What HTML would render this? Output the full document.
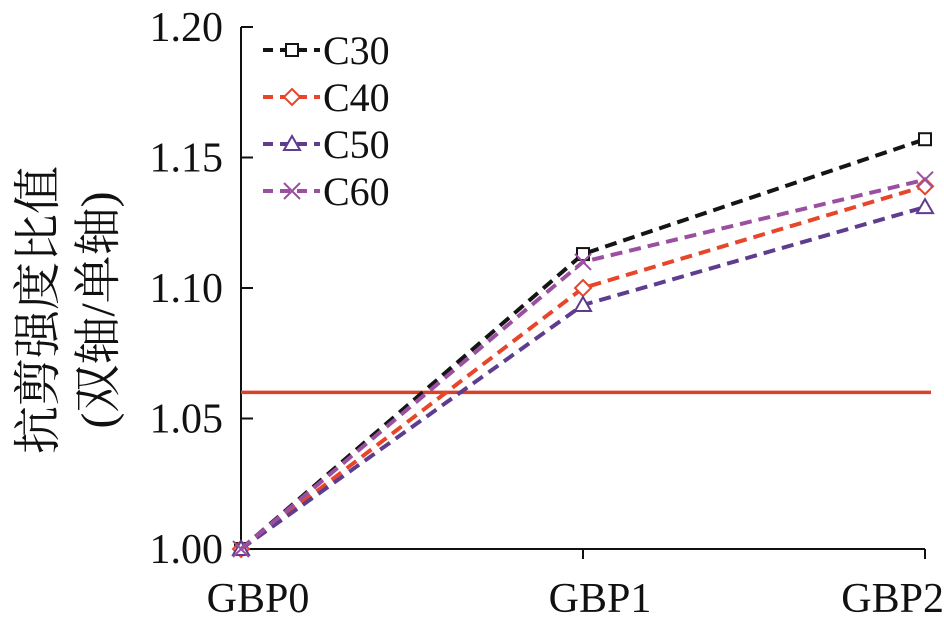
<!DOCTYPE html>
<html><head><meta charset="utf-8"><style>
body{margin:0;background:#fff}
svg{display:block}
text{font-family:"Liberation Serif","Noto Serif CJK SC",serif;fill:#111}
</style></head><body>
<svg id="chart" width="944" height="620" viewBox="0 0 944 620" xmlns="http://www.w3.org/2000/svg"></svg>
<script>
const categories=["GBP0","GBP1","GBP2"];
const seriesNames=["C30","C40","C50","C60"];
const c30=[1.000,1.113,1.157];
const c40=[1.000,1.100,1.139];
const c50=[1.000,1.0935,1.131];
const c60=[1.000,1.110,1.1415];
const yTicks=["1.00","1.05","1.10","1.15","1.20"];
const refValue=1.06;

const NS="http://www.w3.org/2000/svg";
const svg=document.getElementById('chart');
const x0=241,x1=925,yBot=549,yTop=27,yMin=1.0,yMax=1.2;
const xs=i=>x0+(x1-x0)*i/(categories.length-1);
const ys=v=>yBot-(v-yMin)/(yMax-yMin)*(yBot-yTop);
function mk(tag,attrs,parent){const e=document.createElementNS(NS,tag);for(const k in attrs)e.setAttribute(k,attrs[k]);(parent||svg).appendChild(e);return e;}

let ax=mk('line',{x1:x0,y1:yTop,x2:x0,y2:yBot,stroke:'#111','stroke-width':2});


let bx=mk('line',{x1:x0,y1:yBot,x2:x1,y2:yBot,stroke:'#111','stroke-width':2});


yTicks.forEach(t=>{const y=ys(parseFloat(t));
 const tk=mk('line',{x1:x0,y1:y,x2:x0+12,y2:y,stroke:'#111','stroke-width':2});
 
 
 const tx=mk('text',{x:x0-18,y:y+14,'text-anchor':'end','font-size':42});tx.textContent=t;
 
 
});
categories.forEach((c,i)=>{const x=xs(i);
 if(i>0){const tk=mk('line',{x1:x,y1:yBot,x2:x,y2:yBot+10,stroke:'#111','stroke-width':2});
 
 }
 const last=i==categories.length-1;
 const tx=mk('text',{x:last?944:x+17,y:612,'text-anchor':last?'end':'middle','font-size':42});tx.textContent=c;
 
 
});
const yt=mk('text',{transform:'translate(54,310) rotate(-90)','text-anchor':'middle','font-size':48});


const t1=mk('tspan',{x:0,y:0},yt);t1.textContent='抗剪强度比值';
const t2=mk('tspan',{x:0,y:60},yt);t2.textContent='(双轴/单轴)';
const rl=mk('line',{x1:x0,y1:ys(refValue),x2:x1+6,y2:ys(refValue),stroke:'#d9412b','stroke-width':3.5});



const data=[c30,c40,c50,c60];
const colors=['#151515','#e8462a','#5e3c8e','#9b4fa0'];
const markers=['square','diamond','triangle','cross'];
function marker(type,x,y,col,parent){
 if(type=='square')return mk('rect',{x:x-6,y:y-6,width:12,height:12,fill:'#fff',stroke:col,'stroke-width':2},parent);
 if(type=='diamond')return mk('polygon',{points:`${x},${y-8} ${x+8},${y} ${x},${y+8} ${x-8},${y}`,fill:'#fff',stroke:col,'stroke-width':2},parent);
 if(type=='triangle')return mk('polygon',{points:`${x},${y-8} ${x+8},${y+6} ${x-8},${y+6}`,fill:'#fff',stroke:col,'stroke-width':2},parent);
 return mk('path',{d:`M${x-8},${y-8}L${x+8},${y+8}M${x-8},${y+8}L${x+8},${y-8}`,stroke:col,'stroke-width':2,fill:'none'},parent);
}
data.forEach((arr,s)=>{
 const g=mk('g',{});
 
 
 const pts=arr.map((v,i)=>xs(i)+','+ys(v)).join(' ');
 mk('polyline',{points:pts,fill:'none',stroke:colors[s],'stroke-width':4,'stroke-dasharray':'12 7'},g);
 arr.forEach((v,i)=>{const m=marker(markers[s],xs(i),ys(v),colors[s],g);
  
  });
 const ly=50+s*47;
 const lg=mk('g',{});
 
 
 mk('line',{x1:263,y1:ly,x2:320,y2:ly,stroke:colors[s],'stroke-width':4,'stroke-dasharray':'10 7'},lg);
 marker(markers[s],292,ly,colors[s],lg);
 const tx=mk('text',{x:323,y:ly+14,'font-size':40},lg);tx.textContent=seriesNames[s];
});
</script>
</body></html>
